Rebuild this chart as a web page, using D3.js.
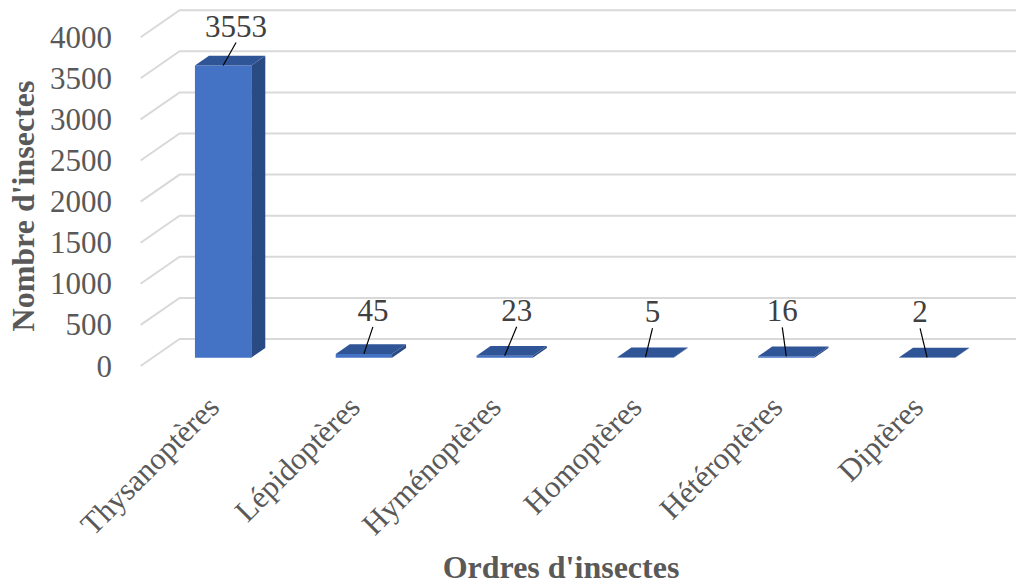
<!DOCTYPE html>
<html>
<head>
<meta charset="utf-8">
<script src="https://cdn.jsdelivr.net/npm/d3@7"></script>
<style>
  html, body { margin: 0; padding: 0; background: #ffffff; }
  svg { display: block; }
</style>
</head>
<body>
<svg id="chart" width="1016" height="586"></svg>
<script>
// ---- data ----
const categories = ["Thysanoptères", "Lépidoptères", "Hyménoptères", "Homoptères", "Hétéroptères", "Diptères"];
const values = [3553, 45, 23, 5, 16, 2];
const yTicks = [0, 500, 1000, 1500, 2000, 2500, 3000, 3500, 4000];
const yTitle = "Nombre d'insectes";
const xTitle = "Ordres d'insectes";

// ---- layout (not data) ----
const W = 1016, H = 586;
const depthX = 39, depthY = 27;      // floor depth offset (back -> front)
const dFront = 0.69, dBack = 0.33;   // bar depth position inside floor
const labelOffsets = [[13, -29], [9, -33], [12, -35], [7, -35], [-4, -35], [-7, -35]];
const font = "'Liberation Serif', 'Times New Roman', serif";
const textColor = "#595959";
const fs = 31;

const svg = d3.select("#chart");

const x = d3.scaleBand().domain(categories).range([179.6, 1024.4]).paddingInner(0.6).paddingOuter(0.3);
const y = d3.scaleLinear().domain([0, 4000]).range([339, 10.2]);

const P = (xb, v, d) => [xb - depthX * d, y(v) + depthY * d];
const poly = pts => pts.map(p => p.join(",")).join(" ");

// gridlines (floor/back wall)
const grid = svg.append("g");
yTicks.forEach(t => {
  const a = P(x.range()[0], t, 1), b = P(x.range()[0], t, 0);
  grid.append("polyline")
    .attr("points", poly([a, b, [W, b[1]]]))
    .attr("fill", "none")
    .attr("stroke", "#d9d9d9")
    .attr("stroke-width", 2);
});

// y tick labels
svg.append("g").selectAll("text").data(yTicks).join("text")
  .attr("x", 112)
  .attr("y", d => P(x.range()[0], d, 1)[1])
  .attr("text-anchor", "end")
  .attr("dominant-baseline", "central")
  .attr("font-family", font)
  .attr("font-size", fs)
  .attr("fill", textColor)
  .text(d => d);

// bars
const bars = svg.append("g");
categories.forEach((c, i) => {
  const v = values[i];
  const x0 = x(c), x1 = x0 + x.bandwidth();
  const g = bars.append("g");
  g.append("polygon")
    .attr("points", poly([P(x1, 0, dFront), P(x1, 0, dBack), P(x1, v, dBack), P(x1, v, dFront)]))
    .attr("fill", "#2a4a84");
  g.append("polygon")
    .attr("points", poly([P(x0, 0, dFront), P(x1, 0, dFront), P(x1, v, dFront), P(x0, v, dFront)]))
    .attr("fill", "#4472c4");
  g.append("polygon")
    .attr("points", poly([P(x0, v, dFront), P(x1, v, dFront), P(x1, v, dBack), P(x0, v, dBack)]))
    .attr("fill", "#2f5597");
});

// data labels with leader lines
const labels = svg.append("g");
categories.forEach((c, i) => {
  const v = values[i];
  const top = P(x(c) + x.bandwidth() / 2, v, dFront);
  const [dx, dy] = labelOffsets[i];
  const lx = top[0] + dx, ly = top[1] + dy;
  labels.append("line")
    .attr("x1", top[0]).attr("y1", top[1])
    .attr("x2", lx).attr("y2", ly + 6)
    .attr("stroke", "#000").attr("stroke-width", 1.2);
  labels.append("text")
    .attr("x", lx).attr("y", ly)
    .attr("text-anchor", "middle")
    .attr("font-family", font)
    .attr("font-size", fs)
    .attr("fill", "#404040")
    .text(v);
});

// category labels
svg.append("g").selectAll("text").data(categories).join("text")
  .attr("transform", d => {
    const p = P(x(d) + x.bandwidth() / 2, 0, dFront);
    return `translate(${p[0] - 2},${409}) rotate(-45)`;
  })
  .attr("text-anchor", "end")
  .attr("font-family", font)
  .attr("font-size", fs)
  .attr("fill", textColor)
  .text(d => d);

// axis titles
svg.append("text")
  .attr("transform", "translate(23,206) rotate(-90)")
  .attr("text-anchor", "middle")
  .attr("dominant-baseline", "central")
  .attr("font-family", font)
  .attr("font-weight", "bold")
  .attr("font-size", 32)
  .attr("fill", textColor)
  .text(yTitle);

svg.append("text")
  .attr("x", 561).attr("y", 578)
  .attr("text-anchor", "middle")
  .attr("font-family", font)
  .attr("font-weight", "bold")
  .attr("font-size", 32)
  .attr("fill", textColor)
  .text(xTitle);
</script>
</body>
</html>
